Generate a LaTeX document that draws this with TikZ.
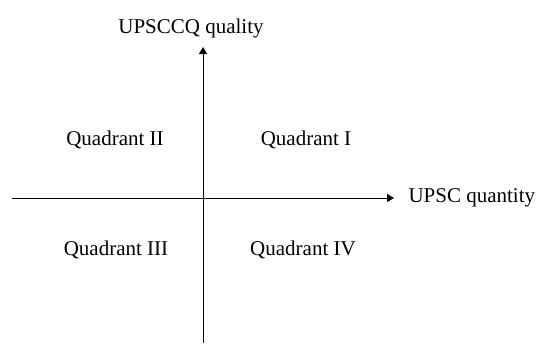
\documentclass[tikz,border=0pt]{standalone}
\usepackage{fontspec}
\setmainfont{Liberation Serif}
\usetikzlibrary{arrows.meta}
\begin{document}
\begin{tikzpicture}[x=1pt, y=-1pt, line width=1pt]
  \tikzstyle{axis}=[-{Triangle[length=7pt,width=8pt]}]
  \tikzstyle{label}=[inner sep=0pt, font=\fontsize{21}{25}\selectfont]
  \useasboundingbox (0,0) rectangle (537,343);
  \coordinate (xl) at (12,198);
  \coordinate (xr) at (394,198);
  \coordinate (yb) at (203,343);
  \coordinate (yt) at (203,47);
  \node[label, anchor=base west] (xlab) at (408,202) {UPSC quantity};
  \node[label, anchor=base] (ylab) at (191,33) {UPSCCQ quality};
  \node[label, anchor=base] (q1) at (306,145) {Quadrant I};
  \node[label, anchor=base] (q2) at (115,145) {Quadrant II};
  \node[label, anchor=base] (q3) at (116,255) {Quadrant III};
  \node[label, anchor=base] (q4) at (303,255) {Quadrant IV};
  \draw[axis] (xl) -- (xr);
  \draw[axis] (yb) -- (yt);
\end{tikzpicture}
\end{document}
